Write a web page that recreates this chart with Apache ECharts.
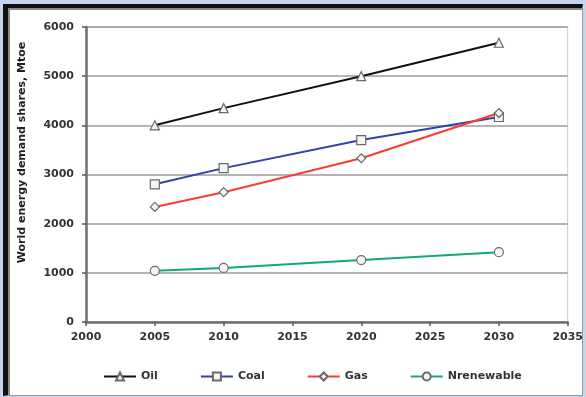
<!DOCTYPE html>
<html>
<head>
<meta charset="utf-8">
<script src="https://cdn.jsdelivr.net/npm/echarts@6/dist/echarts.min.js"></script>
<style>
  html, body { margin: 0; padding: 0; width: 586px; height: 397px; background: #c6d5ee; overflow: hidden; }
  #frame {
    position: absolute; left: 3px; top: 4px; width: 580px; height: 392px;
    box-sizing: border-box;
    background: #fff;
    border-left: 5px solid #111; border-top: 4px solid #111;
    border-right: 1px solid #9a9a9a; border-bottom: 1px solid #9a9a9a;
    box-shadow: inset 2px 2px 0 #8a8a8a;
  }
  #chart { position: absolute; left: 0; top: 0; width: 586px; height: 397px; }
</style>
</head>
<body>
<div id="frame"></div>
<div id="chart"></div>
<script>
// Projected world energy demand by fuel (Mtoe)
const years = [2005, 2010, 2020, 2030];
const oil = [4000, 4350, 5000, 5680];
const coal = [2800, 3130, 3700, 4170];
const gas = [2340, 2640, 3330, 4250];
const nrenewable = [1040, 1100, 1260, 1420];

const xTicks = { min: 2000, max: 2035, step: 5 };
const yTicks = { min: 0, max: 6000, step: 1000 };

const font = 'DejaVu Sans';

function pairs(vals) {
  return years.map((y, i) => [y, vals[i]]);
}

function lineSeries(name, vals, color, symbol) {
  return {
    name: name,
    type: 'line',
    data: pairs(vals),
    symbol: symbol,
    symbolSize: 9,
    showAllSymbol: true,
    lineStyle: { color: color, width: 2 },
    itemStyle: { color: '#f4f4f4', borderColor: '#6a6a6a', borderWidth: 1.2 },
    emphasis: { disabled: true },
    z: 3
  };
}

const chart = echarts.init(document.getElementById('chart'), null, { renderer: 'canvas' });
chart.setOption({
  backgroundColor: 'transparent',
  animation: false,
  textStyle: { fontFamily: font },
  grid: {
    left: 86, right: 17, top: 27, bottom: 75,
    show: true, borderColor: '#c8c8c8', borderWidth: 1, backgroundColor: 'transparent'
  },
  legend: {
    left: 98, top: 366,
    itemWidth: 32, itemHeight: 10, itemGap: 42,
    textStyle: { fontFamily: font, fontWeight: 'bold', fontSize: 11, color: '#333' },
    data: ['Oil', 'Coal', 'Gas', 'Nrenewable']
  },
  xAxis: {
    type: 'value',
    min: xTicks.min, max: xTicks.max, interval: xTicks.step,
    axisLine: { show: true, onZero: false, lineStyle: { color: '#707070', width: 2.5 } },
    axisTick: { show: true, length: 4, lineStyle: { color: '#555', width: 1.5 } },
    axisLabel: { fontFamily: font, fontWeight: 'bold', fontSize: 11, color: '#333', margin: 10,
                 formatter: v => String(v) },
    splitLine: { show: false }
  },
  yAxis: {
    type: 'value',
    min: yTicks.min, max: yTicks.max, interval: yTicks.step,
    name: 'World energy demand shares, Mtoe',
    nameLocation: 'middle',
    nameGap: 58,
    nameRotate: 90,
    nameTextStyle: { fontFamily: font, fontWeight: 'bold', fontSize: 11, color: '#222',
                     padding: [0, 0, 0, 44] },
    axisLine: { show: true, lineStyle: { color: '#707070', width: 2.5 } },
    axisTick: { show: true, length: 4, lineStyle: { color: '#555', width: 1.5 } },
    axisLabel: { fontFamily: font, fontWeight: 'bold', fontSize: 11, color: '#333', margin: 12,
                 formatter: v => String(v) },
    splitLine: { show: true, lineStyle: { color: '#9c9c9c', width: 1.5 } }
  },
  series: [
    lineSeries('Oil', oil, '#111111', 'triangle'),
    lineSeries('Coal', coal, '#3340b0', 'rect'),
    lineSeries('Gas', gas, '#ff3a30', 'diamond'),
    lineSeries('Nrenewable', nrenewable, '#14a878', 'circle')
  ]
});
</script>
</body>
</html>
